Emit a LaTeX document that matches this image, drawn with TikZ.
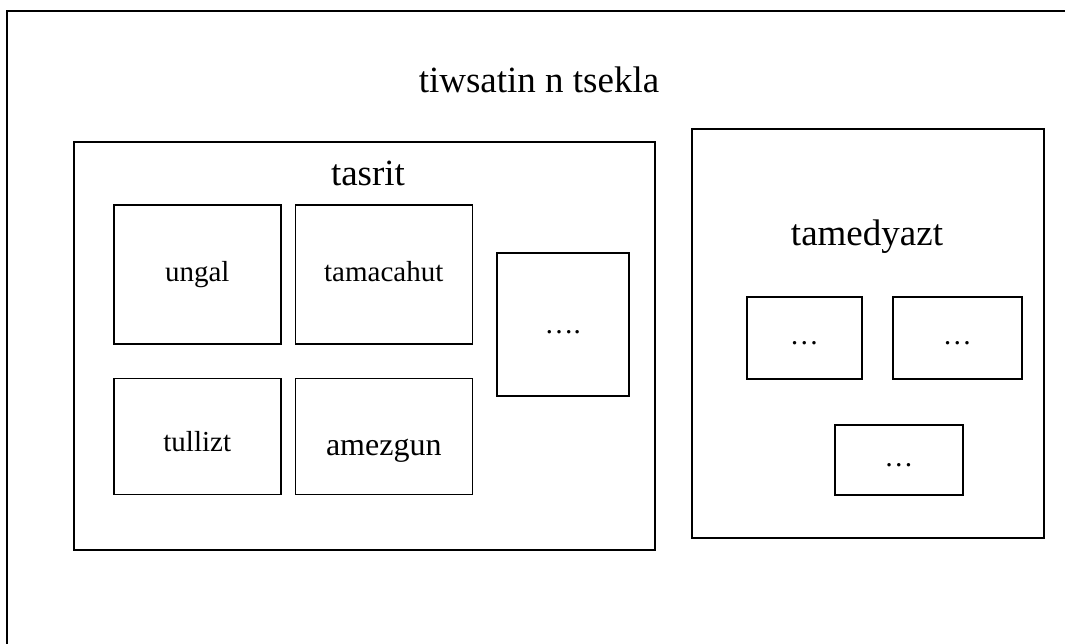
\documentclass[tikz,border=0pt]{standalone}
\usepackage{fontspec}
\setmainfont{Liberation Serif}
\usetikzlibrary{positioning}

\tikzset{
  box/.style={draw, line width=1.5pt, anchor=north west, inner sep=0pt},
  bigtxt/.style={font=\fontsize{37}{44}\selectfont},
  smalltxt/.style={font=\fontsize{29}{35}\selectfont, text height=20pt, text depth=6pt},
}

\begin{document}
\begin{tikzpicture}[x=1pt,y=-1pt]
  \useasboundingbox (0,0) rectangle (1065,643);
  \clip (0,0) rectangle (1065,643);
  % outer frame, cut off at right and bottom
  \node[box, minimum width=1200pt, minimum height=800pt] (frame) at (6,10) {};
  \node[bigtxt, anchor=base] (title) at (539,92) {tiwsatin n tsekla};

  % tasrit
  \node[box, minimum width=581pt, minimum height=408pt] (tasrit) at (73,141) {};
  \node[bigtxt, anchor=base] (tasrit_t) at (368,185) {tasrit};
  \node[box, smalltxt, minimum width=167pt, minimum height=139pt] (ungal) at (113,204) {ungal};
  \node[box, smalltxt, minimum width=177pt, minimum height=139pt] (tamacahut) [right=13pt of ungal] {tamacahut};
  \node[box, smalltxt, text height=36pt, minimum width=167pt, minimum height=116pt] (tullizt) [below=33pt of ungal] {tullizt};
  \node[box, smalltxt, font=\fontsize{32}{38}\selectfont, text height=44pt, minimum width=177pt, minimum height=116pt] (amezgun) [right=13pt of tullizt] {amezgun};
  \node[box, smalltxt, text height=24pt, minimum width=132pt, minimum height=143pt] (more) at (496,252) {….};

  % tamedyazt
  \node[box, minimum width=352pt, minimum height=409pt] (tamedyazt) at (691,128) {};
  \node[bigtxt, anchor=base] (tamedyazt_t) at (867,245) {tamedyazt};
  \node[box, smalltxt, minimum width=115pt, minimum height=82pt] (t_1) at (746,296) {…};
  \node[box, smalltxt, minimum width=129pt, minimum height=82pt] (t_2) at (892,296) {…};
  \node[box, smalltxt, minimum width=128pt, minimum height=70pt] (t_3) at (834,424) {…};
\end{tikzpicture}
\end{document}
